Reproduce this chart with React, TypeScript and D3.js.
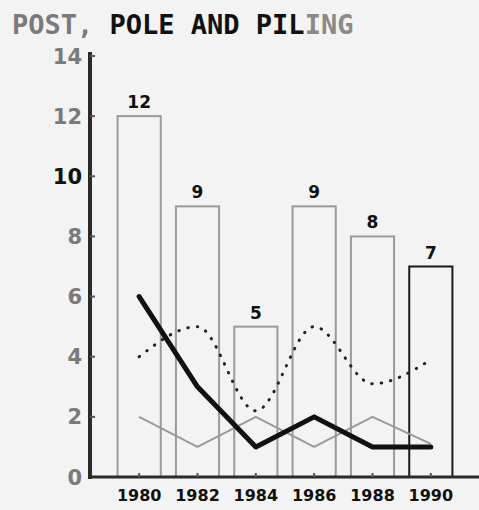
import * as d3 from "d3";

const years = ["1980", "1982", "1984", "1986", "1988", "1990"];
const barValues = [12, 9, 5, 9, 8, 7];
const thickLine = [6, 3, 1, 2, 1, 1];
const thinLine = [2, 1, 2, 1, 2, 1.1];
const dottedLine = [4, 5, 2.2, 5, 3.1, 3.9];
const yTicks = [0, 2, 4, 6, 8, 10, 12, 14];

const W = 479;
const H = 510;

const App = () => {
  const x = d3.scaleBand().domain(years).range([110, 460]).paddingInner(0.26).paddingOuter(0.13);
  const y = d3.scaleLinear().domain([0, 14]).range([477, 56]);
  const cx = (i: number) => (x(years[i]) as number) + x.bandwidth() / 2;

  const line = d3
    .line<number>()
    .x((_, i) => cx(i))
    .y((d) => y(d));
  const curve = d3
    .line<number>()
    .x((_, i) => cx(i))
    .y((d) => y(d))
    .curve(d3.curveMonotoneX);

  const mono = "'DejaVu Sans Mono', monospace";
  const sans = "'DejaVu Sans', sans-serif";

  return (
    <svg width={W} height={H} style={{ position: "absolute", left: 0, top: 0 }}>
      <rect width={W} height={H} fill="#f3f3f3" />

      {/* title */}
      <text x={12} y={34} fontFamily={mono} fontWeight="bold" fontSize={27}>
        <tspan fill="#7a7a7a">POST, </tspan>
        <tspan fill="#111">POLE AND PIL</tspan>
        <tspan fill="#8a8a8a">ING</tspan>
      </text>

      {/* bars */}
      {barValues.map((v, i) => (
        <g key={years[i]}>
          <rect
            x={x(years[i])}
            y={y(v)}
            width={x.bandwidth()}
            height={y(0) - y(v)}
            fill="none"
            stroke={i === barValues.length - 1 ? "#1a1a1a" : "#9a9a9a"}
            strokeWidth={2}
          />
          <text
            x={cx(i)}
            y={y(v) - 8}
            textAnchor="middle"
            fontFamily={sans}
            fontWeight="bold"
            fontSize={17}
            fill="#111"
          >
            {v}
          </text>
        </g>
      ))}

      {/* lines */}
      <path d={line(thinLine) ?? ""} fill="none" stroke="#9a9a9a" strokeWidth={2} />
      <path
        d={curve(dottedLine) ?? ""}
        fill="none"
        stroke="#222"
        strokeWidth={3}
        strokeLinecap="round"
        strokeDasharray="0.5 9"
      />
      <path
        d={line(thickLine) ?? ""}
        fill="none"
        stroke="#111"
        strokeWidth={5}
        strokeLinejoin="round"
        strokeLinecap="round"
      />

      {/* y axis */}
      <line x1={90} x2={90} y1={52} y2={479} stroke="#2a2a2a" strokeWidth={4} />
      {yTicks.map((t) => (
        <g key={t}>
          <line x1={90} x2={95} y1={y(t)} y2={y(t)} stroke="#555" strokeWidth={2} />
          <text
            x={82}
            y={y(t)}
            dy="0.36em"
            textAnchor="end"
            fontFamily={sans}
            fontWeight="bold"
            fontSize={21}
            fill={t === 10 ? "#111" : "#7a7a7a"}
          >
            {t}
          </text>
        </g>
      ))}

      {/* x axis */}
      <line x1={88} x2={W} y1={477} y2={477} stroke="#2a2a2a" strokeWidth={3} />
      {years.map((yr, i) => (
        <g key={yr}>
          <line x1={cx(i)} x2={cx(i)} y1={477} y2={473} stroke="#555" strokeWidth={2} />
          <text
            x={cx(i)}
            y={501}
            textAnchor="middle"
            fontFamily={sans}
            fontWeight="900"
            fontSize={16}
            fill="#111"
          >
            {yr}
          </text>
        </g>
      ))}
    </svg>
  );
};

export default App;
